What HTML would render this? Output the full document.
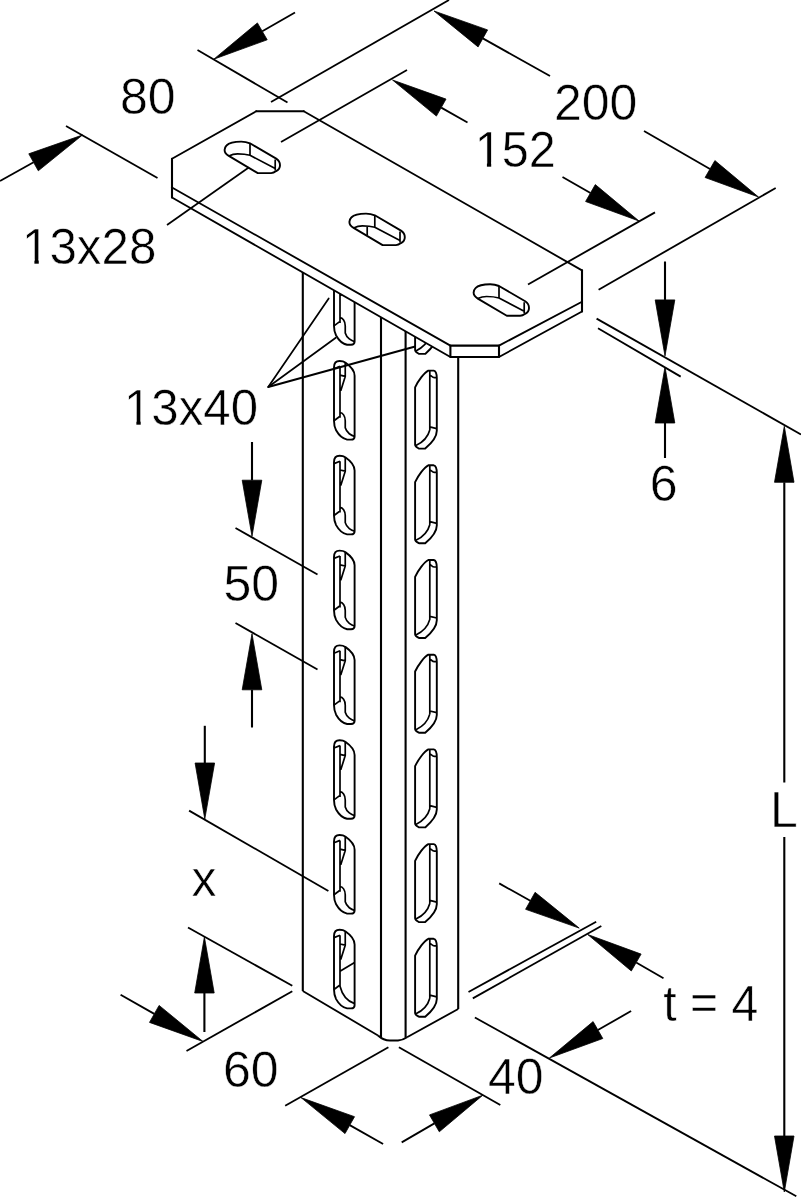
<!DOCTYPE html>
<html><head><meta charset="utf-8"><style>
html,body{margin:0;padding:0;background:#fff;width:801px;height:1200px;overflow:hidden}
svg{display:block}
text{font-family:"Liberation Sans",sans-serif;fill:#000;stroke:#fff;stroke-width:0.5px}
</style></head><body>
<svg width="801" height="1200" viewBox="0 0 801 1200">
<g fill="none" stroke="#000" stroke-width="2.2" stroke-linejoin="round" stroke-linecap="butt">
<path d="M302.80,270.00 L302.80,991.00" stroke-width="2.10"/>
<path d="M381.00,315.00 L381.00,1037.50" stroke-width="2.10"/>
<path d="M405.60,330.00 L405.60,1037.50" stroke-width="2.10"/>
<path d="M458.20,350.00 L458.20,1009.00" stroke-width="2.10"/>
<path d="M302.80,991.00 L378.00,1035.50" stroke-width="1.81"/>
<path d="M407.00,1037.20 L458.20,1009.00" stroke-width="1.84"/>
<path d="M378,1035.5 Q383.5,1040.5 390,1040.5 L398,1040.5 Q403,1040 407,1037.2" stroke-width="2.0"/>
<path d="M334.0,272.6 C334.0,268.0 336.6,266.2 339.6,266.2 C342.1,266.2 344.1,266.8 345.3,267.7 C348.6,270.0 354.6,275.0 354.6,280.9 L354.6,341.6 C354.6,343.8 353.6,344.8 351.1,344.8 L347.1,344.8 C343.1,344.0 338.6,340.0 336.1,335.5 C334.6,332.5 334.0,329.5 334.0,325.9 Z" stroke-width="1.9"/>
<path d="M340.0,271.6 L340.0,323.0 M334.0,274.0 L340.0,271.6 M345.25,267.6 L345.25,281.6 L340.75,295.85 M340.0,280.4 L345.25,281.6 M334.0,325.9 L340.0,321.4 M340.0,317.7 C342.6,318.0 345.25,321.0 345.25,326.0 L345.25,333.0 C346.6,338.0 351.6,341.0 354.6,341.6" stroke-width="1.7"/>
<path d="M334.0,367.40000000000003 C334.0,362.8 336.6,361.0 339.6,361.0 C342.1,361.0 344.1,361.6 345.3,362.5 C348.6,364.8 354.6,369.8 354.6,375.7 L354.6,436.4 C354.6,438.6 353.6,439.6 351.1,439.6 L347.1,439.6 C343.1,438.8 338.6,434.8 336.1,430.3 C334.6,427.3 334.0,424.3 334.0,420.7 Z" stroke-width="1.9"/>
<path d="M340.0,366.40000000000003 L340.0,417.8 M334.0,368.8 L340.0,366.40000000000003 M345.25,362.40000000000003 L345.25,376.40000000000003 L340.75,390.65000000000003 M340.0,375.2 L345.25,376.40000000000003 M334.0,420.7 L340.0,416.2 M340.0,412.5 C342.6,412.8 345.25,415.8 345.25,420.8 L345.25,427.8 C346.6,432.8 351.6,435.8 354.6,436.4" stroke-width="1.7"/>
<path d="M334.0,462.20000000000005 C334.0,457.6 336.6,455.8 339.6,455.8 C342.1,455.8 344.1,456.40000000000003 345.3,457.3 C348.6,459.6 354.6,464.6 354.6,470.5 L354.6,531.2 C354.6,533.4 353.6,534.4 351.1,534.4 L347.1,534.4 C343.1,533.6 338.6,529.6 336.1,525.1 C334.6,522.1 334.0,519.1 334.0,515.5 Z" stroke-width="1.9"/>
<path d="M340.0,461.20000000000005 L340.0,512.6 M334.0,463.6 L340.0,461.20000000000005 M345.25,457.20000000000005 L345.25,471.20000000000005 L340.75,485.45000000000005 M340.0,470.0 L345.25,471.20000000000005 M334.0,515.5 L340.0,511.0 M340.0,507.3 C342.6,507.6 345.25,510.6 345.25,515.6 L345.25,522.6 C346.6,527.6 351.6,530.6 354.6,531.2" stroke-width="1.7"/>
<path d="M334.0,557.0 C334.0,552.4 336.6,550.6 339.6,550.6 C342.1,550.6 344.1,551.1999999999999 345.3,552.1 C348.6,554.4 354.6,559.4 354.6,565.3 L354.6,626.0 C354.6,628.1999999999999 353.6,629.1999999999999 351.1,629.1999999999999 L347.1,629.1999999999999 C343.1,628.4 338.6,624.4 336.1,619.9 C334.6,616.9 334.0,613.9 334.0,610.3 Z" stroke-width="1.9"/>
<path d="M340.0,556.0 L340.0,607.4 M334.0,558.4 L340.0,556.0 M345.25,552.0 L345.25,566.0 L340.75,580.25 M340.0,564.8 L345.25,566.0 M334.0,610.3 L340.0,605.8 M340.0,602.1 C342.6,602.4 345.25,605.4 345.25,610.4 L345.25,617.4 C346.6,622.4 351.6,625.4 354.6,626.0" stroke-width="1.7"/>
<path d="M334.0,651.8000000000001 C334.0,647.2 336.6,645.4000000000001 339.6,645.4000000000001 C342.1,645.4000000000001 344.1,646.0 345.3,646.9000000000001 C348.6,649.2 354.6,654.2 354.6,660.1 L354.6,720.8000000000001 C354.6,723.0 353.6,724.0 351.1,724.0 L347.1,724.0 C343.1,723.2 338.6,719.2 336.1,714.7 C334.6,711.7 334.0,708.7 334.0,705.1 Z" stroke-width="1.9"/>
<path d="M340.0,650.8000000000001 L340.0,702.2 M334.0,653.2 L340.0,650.8000000000001 M345.25,646.8000000000001 L345.25,660.8000000000001 L340.75,675.0500000000001 M340.0,659.6 L345.25,660.8000000000001 M334.0,705.1 L340.0,700.6 M340.0,696.9000000000001 C342.6,697.2 345.25,700.2 345.25,705.2 L345.25,712.2 C346.6,717.2 351.6,720.2 354.6,720.8000000000001" stroke-width="1.7"/>
<path d="M334.0,746.6 C334.0,742.0 336.6,740.2 339.6,740.2 C342.1,740.2 344.1,740.8 345.3,741.7 C348.6,744.0 354.6,749.0 354.6,754.9 L354.6,815.6 C354.6,817.8 353.6,818.8 351.1,818.8 L347.1,818.8 C343.1,818.0 338.6,814.0 336.1,809.5 C334.6,806.5 334.0,803.5 334.0,799.9 Z" stroke-width="1.9"/>
<path d="M340.0,745.6 L340.0,797.0 M334.0,748.0 L340.0,745.6 M345.25,741.6 L345.25,755.6 L340.75,769.85 M340.0,754.4 L345.25,755.6 M334.0,799.9 L340.0,795.4 M340.0,791.7 C342.6,792.0 345.25,795.0 345.25,800.0 L345.25,807.0 C346.6,812.0 351.6,815.0 354.6,815.6" stroke-width="1.7"/>
<path d="M334.0,841.4 C334.0,836.8 336.6,835.0 339.6,835.0 C342.1,835.0 344.1,835.5999999999999 345.3,836.5 C348.6,838.8 354.6,843.8 354.6,849.6999999999999 L354.6,910.4 C354.6,912.5999999999999 353.6,913.5999999999999 351.1,913.5999999999999 L347.1,913.5999999999999 C343.1,912.8 338.6,908.8 336.1,904.3 C334.6,901.3 334.0,898.3 334.0,894.6999999999999 Z" stroke-width="1.9"/>
<path d="M340.0,840.4 L340.0,891.8 M334.0,842.8 L340.0,840.4 M345.25,836.4 L345.25,850.4 L340.75,864.65 M340.0,849.1999999999999 L345.25,850.4 M334.0,894.6999999999999 L340.0,890.1999999999999 M340.0,886.5 C342.6,886.8 345.25,889.8 345.25,894.8 L345.25,901.8 C346.6,906.8 351.6,909.8 354.6,910.4" stroke-width="1.7"/>
<path d="M334.0,936.2 C334.0,931.6 336.6,929.8000000000001 339.6,929.8000000000001 C342.1,929.8000000000001 344.1,930.4 345.3,931.3000000000001 C348.6,933.6 354.6,938.6 354.6,944.5 L354.6,1005.2 C354.6,1007.4 353.6,1008.4 351.1,1008.4 L347.1,1008.4 C343.1,1007.6 338.6,1003.6 336.1,999.1 C334.6,996.1 334.0,993.1 334.0,989.5 Z" stroke-width="1.9"/>
<path d="M340.0,935.2 L340.0,986.6 M334.0,937.6 L340.0,935.2 M345.25,931.2 L345.25,945.2 L340.75,959.45 M340.0,944.0 L345.25,945.2 M340.0,971.2 L354.6,962.5 M334.0,989.5 L340.0,985.0 M340.0,986.2 C341.6,992.6 345.6,1000.6 354.6,1003.6" stroke-width="1.7"/>
<path d="M415.1,292.7 C418.3,285.9 424.3,277.9 428.3,275.9 L433.7,275.9 C435.8,276.4 436.8,277.9 436.8,283.4 L436.8,336.09999999999997 C436.8,342.9 432.3,347.9 425.2,353.9 L419.0,353.9 C417.3,352.9 415.1,351.9 415.1,350.09999999999997 Z" stroke-width="1.9"/>
<path d="M429.8,275.9 L429.8,335.29999999999995 M429.8,280.2 C431.3,281.2 432.8,282.9 434.3,282.9 L436.8,282.9 M429.8,332.2 L436.8,333.9 M429.8,335.29999999999995 C428.3,340.9 424.3,346.9 415.90000000000003,350.9" stroke-width="1.7"/>
<path d="M415.1,387.4 C418.3,380.59999999999997 424.3,372.59999999999997 428.3,370.59999999999997 L433.7,370.59999999999997 C435.8,371.09999999999997 436.8,372.59999999999997 436.8,378.09999999999997 L436.8,430.79999999999995 C436.8,437.59999999999997 432.3,442.59999999999997 425.2,448.59999999999997 L419.0,448.59999999999997 C417.3,447.59999999999997 415.1,446.59999999999997 415.1,444.79999999999995 Z" stroke-width="1.9"/>
<path d="M429.8,370.59999999999997 L429.8,429.99999999999994 M429.8,374.9 C431.3,375.9 432.8,377.59999999999997 434.3,377.59999999999997 L436.8,377.59999999999997 M429.8,426.9 L436.8,428.59999999999997 M429.8,429.99999999999994 C428.3,435.59999999999997 424.3,441.59999999999997 415.90000000000003,445.59999999999997" stroke-width="1.7"/>
<path d="M415.1,482.09999999999997 C418.3,475.29999999999995 424.3,467.29999999999995 428.3,465.29999999999995 L433.7,465.29999999999995 C435.8,465.79999999999995 436.8,467.29999999999995 436.8,472.79999999999995 L436.8,525.5 C436.8,532.3 432.3,537.3 425.2,543.3 L419.0,543.3 C417.3,542.3 415.1,541.3 415.1,539.5 Z" stroke-width="1.9"/>
<path d="M429.8,465.29999999999995 L429.8,524.6999999999999 M429.8,469.59999999999997 C431.3,470.59999999999997 432.8,472.29999999999995 434.3,472.29999999999995 L436.8,472.29999999999995 M429.8,521.5999999999999 L436.8,523.3 M429.8,524.6999999999999 C428.3,530.3 424.3,536.3 415.90000000000003,540.3" stroke-width="1.7"/>
<path d="M415.1,576.8 C418.3,570.0 424.3,562.0 428.3,560.0 L433.7,560.0 C435.8,560.5 436.8,562.0 436.8,567.5 L436.8,620.2 C436.8,627.0 432.3,632.0 425.2,638.0 L419.0,638.0 C417.3,637.0 415.1,636.0 415.1,634.2 Z" stroke-width="1.9"/>
<path d="M429.8,560.0 L429.8,619.4 M429.8,564.3 C431.3,565.3 432.8,567.0 434.3,567.0 L436.8,567.0 M429.8,616.3 L436.8,618.0 M429.8,619.4 C428.3,625.0 424.3,631.0 415.90000000000003,635.0" stroke-width="1.7"/>
<path d="M415.1,671.5 C418.3,664.7 424.3,656.7 428.3,654.7 L433.7,654.7 C435.8,655.2 436.8,656.7 436.8,662.2 L436.8,714.9000000000001 C436.8,721.7 432.3,726.7 425.2,732.7 L419.0,732.7 C417.3,731.7 415.1,730.7 415.1,728.9000000000001 Z" stroke-width="1.9"/>
<path d="M429.8,654.7 L429.8,714.1 M429.8,659.0 C431.3,660.0 432.8,661.7 434.3,661.7 L436.8,661.7 M429.8,711.0 L436.8,712.7 M429.8,714.1 C428.3,719.7 424.3,725.7 415.90000000000003,729.7" stroke-width="1.7"/>
<path d="M415.1,766.1999999999999 C418.3,759.4 424.3,751.4 428.3,749.4 L433.7,749.4 C435.8,749.9 436.8,751.4 436.8,756.9 L436.8,809.6 C436.8,816.4 432.3,821.4 425.2,827.4 L419.0,827.4 C417.3,826.4 415.1,825.4 415.1,823.6 Z" stroke-width="1.9"/>
<path d="M429.8,749.4 L429.8,808.8 M429.8,753.6999999999999 C431.3,754.6999999999999 432.8,756.4 434.3,756.4 L436.8,756.4 M429.8,805.6999999999999 L436.8,807.4 M429.8,808.8 C428.3,814.4 424.3,820.4 415.90000000000003,824.4" stroke-width="1.7"/>
<path d="M415.1,860.9 C418.3,854.1 424.3,846.1 428.3,844.1 L433.7,844.1 C435.8,844.6 436.8,846.1 436.8,851.6 L436.8,904.3000000000001 C436.8,911.1 432.3,916.1 425.2,922.1 L419.0,922.1 C417.3,921.1 415.1,920.1 415.1,918.3000000000001 Z" stroke-width="1.9"/>
<path d="M429.8,844.1 L429.8,903.5 M429.8,848.4 C431.3,849.4 432.8,851.1 434.3,851.1 L436.8,851.1 M429.8,900.4 L436.8,902.1 M429.8,903.5 C428.3,909.1 424.3,915.1 415.90000000000003,919.1" stroke-width="1.7"/>
<path d="M415.1,955.5999999999999 C418.3,948.8 424.3,940.8 428.3,938.8 L433.7,938.8 C435.8,939.3 436.8,940.8 436.8,946.3 L436.8,999.0 C436.8,1005.8 432.3,1010.8 425.2,1016.8 L419.0,1016.8 C417.3,1015.8 415.1,1014.8 415.1,1013.0 Z" stroke-width="1.9"/>
<path d="M429.8,938.8 L429.8,998.1999999999999 M429.8,943.0999999999999 C431.3,944.0999999999999 432.8,945.8 434.3,945.8 L436.8,945.8 M429.8,995.0999999999999 L436.8,996.8 M429.8,998.1999999999999 C428.3,1003.8 424.3,1009.8 415.90000000000003,1013.8" stroke-width="1.7"/>
<path d="M172,158.75 L256.25,111.25 L303.75,111.25 L582,270.4 L582,311.5 L499,357 L450.4,357 L172,197.5 Z" fill="#fff" stroke="none"/>
<path d="M172.00,187.50 L172.00,158.75" stroke-width="2.10" stroke-linecap="round"/>
<path d="M172.00,158.75 L256.25,111.25" stroke-width="1.83" stroke-linecap="round"/>
<path d="M256.25,111.25 L303.75,111.25" stroke-width="2.10" stroke-linecap="round"/>
<path d="M303.75,111.25 L582.00,270.40" stroke-width="1.82" stroke-linecap="round"/>
<path d="M582.00,270.40 L582.00,311.50" stroke-width="2.10" stroke-linecap="round"/>
<path d="M582.00,311.50 L499.00,357.00" stroke-width="1.84" stroke-linecap="round"/>
<path d="M499.00,357.00 L450.40,357.00" stroke-width="2.10" stroke-linecap="round"/>
<path d="M450.40,357.00 L172.00,197.50" stroke-width="1.82" stroke-linecap="round"/>
<path d="M172.00,197.50 L172.00,187.50" stroke-width="2.10" stroke-linecap="round"/>
<path d="M172.00,187.50 L450.40,345.60" stroke-width="1.83" stroke-linecap="round"/>
<path d="M450.40,345.60 L499.00,345.60" stroke-width="2.10" stroke-linecap="round"/>
<path d="M499.00,345.60 L582.00,301.80" stroke-width="1.86" stroke-linecap="round"/>
<path d="M450.40,345.60 L450.40,357.00" stroke-width="2.10"/>
<path d="M499.00,345.60 L499.00,357.00" stroke-width="2.10"/>
<path d="M224.60,149.90 C224.90,147.90 225.50,146.50 226.50,145.50 C228.60,143.30 233.60,141.60 241.20,141.60 C244.60,141.60 247.60,142.30 250.00,143.30 L276.20,158.60 C278.60,160.10 280.00,162.40 280.00,165.20 C280.00,167.90 278.60,169.90 276.20,171.10 C274.60,172.30 273.10,173.10 271.10,173.10 L257.80,173.10 L228.80,155.90 C226.10,154.30 224.60,152.10 224.60,149.90 Z" stroke-width="1.9"/>
<path d="M228.80,155.90 C231.60,154.50 234.60,153.80 237.60,153.80 C242.60,153.80 246.60,154.30 250.00,155.30 M250.00,143.30 L250.00,155.30 L275.20,168.50 M275.20,159.50 L275.20,170.50" stroke-width="1.7"/>
<path d="M349.40,221.90 C349.70,219.90 350.30,218.50 351.30,217.50 C353.40,215.30 358.40,213.60 366.00,213.60 C369.40,213.60 372.40,214.30 374.80,215.30 L401.00,230.60 C403.40,232.10 404.80,234.40 404.80,237.20 C404.80,239.90 403.40,241.90 401.00,243.10 C399.40,244.30 397.90,245.10 395.90,245.10 L382.60,245.10 L353.60,227.90 C350.90,226.30 349.40,224.10 349.40,221.90 Z" stroke-width="1.9"/>
<path d="M353.60,227.90 C356.40,226.50 359.40,225.80 362.40,225.80 C367.40,225.80 371.40,226.30 374.80,227.30 M374.80,215.30 L374.80,227.30 L400.00,240.50 M400.00,231.50 L400.00,242.50 M367.20,226.30 L367.20,235.00" stroke-width="1.7"/>
<path d="M473.60,292.60 C473.90,290.60 474.50,289.20 475.50,288.20 C477.60,286.00 482.60,284.30 490.20,284.30 C493.60,284.30 496.60,285.00 499.00,286.00 L525.20,301.30 C527.60,302.80 529.00,305.10 529.00,307.90 C529.00,310.60 527.60,312.60 525.20,313.80 C523.60,315.00 522.10,315.80 520.10,315.80 L506.80,315.80 L477.80,298.60 C475.10,297.00 473.60,294.80 473.60,292.60 Z" stroke-width="1.9"/>
<path d="M477.80,298.60 C480.60,297.20 483.60,296.50 486.60,296.50 C491.60,296.50 495.60,297.00 499.00,298.00 M499.00,286.00 L499.00,298.00 L524.20,311.20 M524.20,302.20 L524.20,313.20" stroke-width="1.7"/>
<path d="M197.50,50.00 L287.50,102.50" stroke-width="1.81"/>
<path d="M66.00,126.00 L157.50,178.00" stroke-width="1.83"/>
<path d="M295.00,12.50 L262.29,31.32" stroke-width="1.82"/>
<path d="M213.8,59.2 L267.2,39.8 L257.4,22.9 Z" fill="#000" stroke-width="0.8"/>
<path d="M0.00,181.00 L33.59,162.27" stroke-width="1.83"/>
<path d="M82.5,135.0 L28.8,153.8 L38.3,170.8 Z" fill="#000" stroke-width="0.8"/>
<path d="M271.00,102.00 L449.00,0.00" stroke-width="1.82"/>
<path d="M775.70,188.00 L598.60,289.80" stroke-width="1.82"/>
<path d="M550.00,76.00 L482.85,38.37" stroke-width="1.83"/>
<path d="M434.0,11.0 L478.1,46.9 L487.6,29.9 Z" fill="#000" stroke-width="0.8"/>
<path d="M644.00,131.00 L709.98,169.03" stroke-width="1.82"/>
<path d="M758.5,197.0 L714.9,160.6 L705.1,177.5 Z" fill="#000" stroke-width="0.8"/>
<path d="M281.00,142.00 L407.00,70.00" stroke-width="1.82"/>
<path d="M655.00,212.40 L528.00,284.50" stroke-width="1.83"/>
<path d="M467.50,122.50 L441.22,107.61" stroke-width="1.83"/>
<path d="M392.5,80.0 L436.4,116.1 L446.0,99.1 Z" fill="#000" stroke-width="0.8"/>
<path d="M562.50,177.00 L590.46,193.08" stroke-width="1.82"/>
<path d="M639.0,221.0 L595.3,184.6 L585.6,201.5 Z" fill="#000" stroke-width="0.8"/>
<path d="M596.60,318.60 L801.00,434.50" stroke-width="1.83"/>
<path d="M598.00,328.30 L680.70,376.60" stroke-width="1.81"/>
<path d="M665.00,261.50 L665.00,299.90" stroke-width="2.10"/>
<path d="M665.0,355.9 L674.8,299.9 L655.2,299.9 Z" fill="#000" stroke-width="0.8"/>
<path d="M665.00,458.00 L665.00,423.00" stroke-width="2.10"/>
<path d="M665.0,367.0 L655.2,423.0 L674.8,423.0 Z" fill="#000" stroke-width="0.8"/>
<path d="M784.30,520.00 L784.30,782.50" stroke-width="2.10"/>
<path d="M784.30,837.00 L784.30,1100.00" stroke-width="2.10"/>
<path d="M784.30,520.00 L784.30,482.30" stroke-width="2.10"/>
<path d="M784.3,426.3 L774.5,482.3 L794.0,482.3 Z" fill="#000" stroke-width="0.8"/>
<path d="M784.30,1100.00 L784.30,1136.00" stroke-width="2.10"/>
<path d="M784.3,1192.0 L794.0,1136.0 L774.5,1136.0 Z" fill="#000" stroke-width="0.8"/>
<path d="M474.90,1017.50 L796.30,1196.30" stroke-width="1.84"/>
<path d="M167.00,225.00 L248.75,167.50" stroke-width="1.72"/>
<path d="M328.70,298.50 L268.20,387.00" stroke-width="1.73" stroke-linecap="round"/>
<path d="M268.20,387.00 L335.80,337.80" stroke-width="1.70" stroke-linecap="round"/>
<path d="M268.20,387.00 L415.20,346.50" stroke-width="2.02"/>
<path d="M252.00,442.00 L252.00,480.25" stroke-width="2.10"/>
<path d="M252.0,536.2 L261.8,480.2 L242.2,480.2 Z" fill="#000" stroke-width="0.8"/>
<path d="M235.50,528.00 L317.50,574.50" stroke-width="1.83"/>
<path d="M235.50,623.00 L317.50,669.50" stroke-width="1.83"/>
<path d="M252.00,727.50 L252.00,689.75" stroke-width="2.10"/>
<path d="M252.0,633.8 L242.2,689.8 L261.8,689.8 Z" fill="#000" stroke-width="0.8"/>
<path d="M204.80,725.80 L204.80,763.00" stroke-width="2.10"/>
<path d="M204.8,819.0 L214.6,763.0 L195.1,763.0 Z" fill="#000" stroke-width="0.8"/>
<path d="M189.10,810.60 L328.40,891.00" stroke-width="1.82"/>
<path d="M188.00,927.50 L292.30,985.70" stroke-width="1.83"/>
<path d="M204.40,1032.00 L204.40,993.00" stroke-width="2.10"/>
<path d="M204.4,937.0 L194.7,993.0 L214.2,993.0 Z" fill="#000" stroke-width="0.8"/>
<path d="M186.50,1051.00 L292.30,991.20" stroke-width="1.83"/>
<path d="M120.60,994.80 L154.28,1013.89" stroke-width="1.83"/>
<path d="M203.0,1041.5 L159.1,1005.4 L149.5,1022.4 Z" fill="#000" stroke-width="0.8"/>
<path d="M388.40,1047.30 L285.20,1105.70" stroke-width="1.83"/>
<path d="M383.10,1144.00 L349.75,1125.15" stroke-width="1.83"/>
<path d="M301.0,1097.6 L345.0,1133.6 L354.5,1116.7 Z" fill="#000" stroke-width="0.8"/>
<path d="M398.90,1047.30 L500.30,1105.00" stroke-width="1.83"/>
<path d="M401.70,1142.40 L434.40,1123.37" stroke-width="1.81"/>
<path d="M482.8,1095.2 L429.5,1114.9 L439.3,1131.8 Z" fill="#000" stroke-width="0.8"/>
<path d="M631.10,1011.00 L597.94,1030.08" stroke-width="1.82"/>
<path d="M549.4,1058.0 L602.8,1038.5 L593.1,1021.6 Z" fill="#000" stroke-width="0.8"/>
<path d="M499.20,883.40 L530.31,900.78" stroke-width="1.83"/>
<path d="M579.2,928.1 L535.1,892.3 L525.6,909.3 Z" fill="#000" stroke-width="0.8"/>
<path d="M663.50,978.30 L636.19,962.52" stroke-width="1.82"/>
<path d="M587.7,934.5 L631.3,971.0 L641.1,954.1 Z" fill="#000" stroke-width="0.8"/>
<path d="M468.50,992.00 L596.20,921.70" stroke-width="1.84"/>
<path d="M472.80,998.40 L601.30,926.00" stroke-width="1.83"/>
</g>
<g>
<text x="120" y="114" font-size="50" text-anchor="start" >80</text>
<text x="554" y="120.3" font-size="50" text-anchor="start" >200</text>
<text x="474.7" y="167" font-size="50" text-anchor="start" textLength="81" lengthAdjust="spacingAndGlyphs">152</text>
<text x="22" y="264" font-size="50" text-anchor="start" textLength="134.4" lengthAdjust="spacingAndGlyphs">13x28</text>
<text x="124" y="425.4" font-size="50" text-anchor="start" textLength="134" lengthAdjust="spacingAndGlyphs">13x40</text>
<text x="649.8" y="500.8" font-size="50" text-anchor="start" >6</text>
<text x="223.5" y="601" font-size="50" text-anchor="start" >50</text>
<text x="191.5" y="896" font-size="50" text-anchor="start" >x</text>
<text x="223" y="1087" font-size="50" text-anchor="start" >60</text>
<text x="488" y="1094.4" font-size="50" text-anchor="start" >40</text>
<text x="663.3" y="1021" font-size="50" text-anchor="start" textLength="95" lengthAdjust="spacingAndGlyphs">t <tspan dy="-2">=</tspan><tspan dy="2"> 4</tspan></text>
<text x="770" y="826.7" font-size="50" text-anchor="start" >L</text>
</g>
<g fill="#fff">
<rect x="477.46" y="162.46" width="9.45" height="5.24"/>
<rect x="491.20" y="162.46" width="9.07" height="5.24"/>
<rect x="24.81" y="259.46" width="9.59" height="5.24"/>
<rect x="38.76" y="259.46" width="9.21" height="5.24"/>
<rect x="126.80" y="420.86" width="9.57" height="5.24"/>
<rect x="140.71" y="420.86" width="9.18" height="5.24"/>
</g>
</svg>
</body></html>
